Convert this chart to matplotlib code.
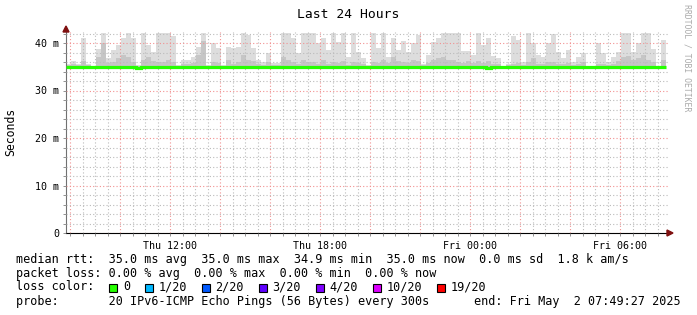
import numpy as np
import matplotlib
matplotlib.use("Agg")
import matplotlib.pyplot as plt
from matplotlib.patches import Rectangle, Polygon
from matplotlib.ticker import FixedLocator

# time of first sample: Thu 07:49:27, hours since Thu 00:00, 12 min steps
start_hour = 7.824
step_hours = 0.2

# upper edge of the smoke (ms), one value per step
smoke_top = [
    35.5, 36.2, 35.5, 41.0, 35.5, 35.2, 38.7, 42.1, 36.8, 38.5, 39.6, 41.0,
    42.1, 41.0, 35.4, 42.1, 39.6, 38.2, 42.1, 42.1, 42.1, 41.5, 35.4, 36.4,
    36.4, 37.1, 39.2, 42.1, 35.4, 40.0, 38.9, 35.4, 39.2, 38.9, 39.2, 42.1,
    41.7, 38.9, 36.4, 36.1, 37.8, 35.7, 35.7, 42.1, 42.1, 41.0, 37.8, 42.1,
    42.1, 42.1, 40.0, 41.0, 38.5, 42.1, 40.3, 42.1, 37.1, 42.1, 38.2, 36.8,
    35.4, 42.1, 38.9, 42.1, 37.1, 41.1, 38.5, 40.5, 38.2, 40.0, 41.7, 35.5,
    37.5, 40.3, 41.0, 42.1, 42.1, 42.1, 42.1, 38.3, 38.3, 37.5, 42.1, 39.6,
    41.0, 37.3, 36.8, 35.2, 35.5, 41.5, 40.6, 36.1, 42.1, 40.0, 37.5, 37.1,
    40.0, 41.8, 38.2, 36.8, 38.5, 36.1, 37.1, 37.8, 35.2, 35.2, 40.0, 37.8,
    36.1, 37.1, 38.2, 42.1, 42.1, 38.2, 40.0, 42.1, 42.1, 38.7, 35.2, 40.6,
]

# darker inner band of the smoke (ms)
smoke_mid = [
    35.3, 35.6, 35.3, 36.2, 35.3, 35.1, 37.0, 40.0, 35.8, 36.0, 36.8, 37.5,
    37.0, 36.0, 35.2, 36.5, 37.0, 36.2, 36.0, 36.0, 36.4, 36.0, 35.2, 35.6,
    35.6, 35.8, 37.5, 40.5, 35.2, 36.0, 35.8, 35.2, 36.5, 35.6, 36.0, 37.5,
    36.5, 36.2, 35.5, 35.4, 36.0, 35.4, 35.4, 37.0, 36.5, 36.0, 35.5, 36.5,
    36.0, 36.0, 35.6, 36.5, 35.6, 36.0, 35.8, 36.2, 35.4, 36.0, 35.8, 35.6,
    35.2, 36.0, 35.8, 36.5, 35.8, 37.0, 36.2, 36.0, 35.8, 36.5, 36.2, 35.3,
    35.8, 36.5, 36.8, 37.0, 36.5, 36.5, 36.0, 35.8, 36.3, 35.8, 36.2, 35.8,
    36.2, 35.6, 35.6, 35.1, 35.3, 35.6, 35.8, 35.4, 36.0, 36.8, 35.6, 35.6,
    36.0, 36.0, 35.6, 35.5, 35.8, 35.4, 35.6, 36.0, 35.1, 35.1, 35.6, 35.5,
    35.4, 35.6, 36.2, 37.0, 37.2, 36.5, 36.8, 37.5, 36.5, 36.0, 35.1, 36.5,
]

# median rtt (ms)
median = [
    35.0, 35.0, 35.0, 35.0, 35.0, 35.0, 35.0, 35.0, 35.0, 35.0, 35.0, 35.0,
    35.0, 35.0, 34.8, 35.0, 35.0, 35.0, 35.0, 35.0, 35.0, 35.0, 35.0, 35.0,
    35.0, 35.0, 35.0, 35.0, 35.0, 35.0, 35.0, 35.0, 35.0, 35.0, 35.0, 35.0,
    35.0, 35.0, 35.0, 35.0, 35.0, 35.0, 35.0, 35.0, 35.0, 35.0, 35.0, 35.0,
    35.0, 35.0, 35.0, 35.0, 35.0, 35.0, 35.0, 35.0, 35.0, 35.0, 35.0, 35.0,
    35.0, 35.0, 35.0, 35.0, 35.0, 35.0, 35.0, 35.0, 35.0, 35.0, 35.0, 35.0,
    35.0, 35.0, 35.0, 35.0, 35.0, 35.0, 35.0, 35.0, 35.0, 35.0, 35.0, 35.0,
    34.8, 35.0, 35.0, 35.0, 35.0, 35.0, 35.0, 35.0, 35.0, 35.0, 35.0, 35.0,
    35.0, 35.0, 35.0, 35.0, 35.0, 35.0, 35.0, 35.0, 35.0, 35.0, 35.0, 35.0,
    35.0, 35.0, 35.0, 35.0, 35.0, 35.0, 35.0, 35.0, 35.0, 35.0, 35.0, 35.0,
]

y_ticks = [0, 10, 20, 30, 40]
y_labels = ["0", "10 m", "20 m", "30 m", "40 m"]
x_label_hours = [12, 18, 24, 30]
x_labels = ["Thu 12:00", "Thu 18:00", "Fri 00:00", "Fri 06:00"]

loss_names = ["0", "1/20", "2/20", "3/20", "4/20", "10/20", "19/20"]
loss_colors = ["#26ff00", "#00b8ff", "#0059ff", "#5e00ff", "#7e00ff", "#dd00ff", "#ff0000"]
loss_cols = [13, 18, 26, 34, 42, 50, 59]

line_rtt = "median rtt:  35.0 ms avg  35.0 ms max  34.9 ms min  35.0 ms now  0.0 ms sd  1.8 k am/s"
line_loss = "packet loss: 0.00 % avg  0.00 % max  0.00 % min  0.00 % now"
line_probe = "probe:       20 IPv6-ICMP Echo Pings (56 Bytes) every 300s"
line_end = "end: Fri May  2 07:49:27 2025"

W, H = 697, 315
MONO = "DejaVu Sans Mono"


def fx(px):
    return px / W


def fy(py):
    return 1 - py / H


fig = plt.figure(figsize=(W / 100, H / 100), dpi=100)
ax = fig.add_axes([fx(66), fy(233), fx(668) - fx(66), fy(32) - fy(233)])

edges = start_hour + step_hours * np.arange(len(smoke_top) + 1)
ax.stairs(smoke_top, edges, baseline=34.9, fill=True, color="#dddddd", lw=0, zorder=1)
ax.stairs(smoke_mid, edges, baseline=34.9, fill=True, color="#c6c6c6", lw=0, zorder=1.1)
ax.stairs(median, edges, baseline=None, color="#26ff00", lw=2.3, zorder=3)

ax.set_xlim(start_hour, start_hour + 602 / 25)
ax.set_ylim(0, 201 / 4.75)

major_x = np.arange(8, 32, 2)
ax.xaxis.set_major_locator(FixedLocator(major_x))
ax.xaxis.set_minor_locator(FixedLocator(np.arange(8, 32, 0.5)))
lab = []
for h in major_x:
    lab.append(x_labels[x_label_hours.index(h)] if h in x_label_hours else "")
ax.set_xticklabels(lab)
ax.yaxis.set_major_locator(FixedLocator(y_ticks))
ax.yaxis.set_minor_locator(FixedLocator(np.arange(2, 43, 2)))
ax.set_yticklabels(y_labels)

ax.set_axisbelow(False)
ax.grid(which="minor", color="#bbbbbb", linestyle=(0, (1, 2)), linewidth=0.8)
ax.grid(which="major", color="#f29090", linestyle=(0, (1, 2)), linewidth=0.8)

for s in ["top", "right"]:
    ax.spines[s].set_visible(False)
ax.spines["left"].set_color("#707070")
ax.spines["bottom"].set_color("#000000")
ax.spines["left"].set_linewidth(0.8)
ax.spines["bottom"].set_linewidth(0.8)
ax.tick_params(which="both", length=2, width=0.6, color="#808080")
ax.tick_params(axis="x", pad=4)
ax.tick_params(axis="y", pad=3)
for t in ax.get_xticklabels() + ax.get_yticklabels():
    t.set_fontfamily(MONO)
    t.set_fontsize(7.2)

# axis arrows
fig.patches.append(Polygon([(fx(667), fy(230)), (fx(667), fy(236)), (fx(673), fy(233))],
                           closed=True, color="#7f1010", transform=fig.transFigure))
fig.patches.append(Polygon([(fx(63), fy(32)), (fx(69), fy(32)), (fx(66), fy(26))],
                           closed=True, color="#7f1010", transform=fig.transFigure))

fig.text(fx(348), fy(14), "Last 24 Hours", family=MONO, fontsize=9.4, ha="center", va="center")
fig.text(fx(11), fy(132), "Seconds", family=MONO, fontsize=8.3, rotation=90, ha="center", va="center")
fig.text(fx(687), fy(4), "RRDTOOL / TOBI OETIKER", family=MONO, fontsize=5.9, rotation=270,
         ha="center", va="top", color="#aaaaaa")

cw = 7.12
fig.text(fx(16), fy(259), line_rtt, family=MONO, fontsize=8.5, va="center")
fig.text(fx(16), fy(273), line_loss, family=MONO, fontsize=8.5, va="center")
fig.text(fx(16), fy(287), "loss color:", family=MONO, fontsize=8.5, va="center")
for name, col, c in zip(loss_names, loss_colors, loss_cols):
    x0 = 16 + c * cw
    fig.patches.append(Rectangle((fx(x0 + 0.5), fy(291.5)), 8 / W, 8 / H, facecolor=col,
                                 edgecolor="black", lw=0.8, transform=fig.transFigure))
    fig.text(fx(16 + (c + 2) * cw), fy(287), name, family=MONO, fontsize=8.5, va="center")
fig.text(fx(16), fy(301), line_probe, family=MONO, fontsize=8.5, va="center")
fig.text(fx(681), fy(301), line_end, family=MONO, fontsize=8.5, va="center", ha="right")

fig.savefig("out.png", dpi=100)
